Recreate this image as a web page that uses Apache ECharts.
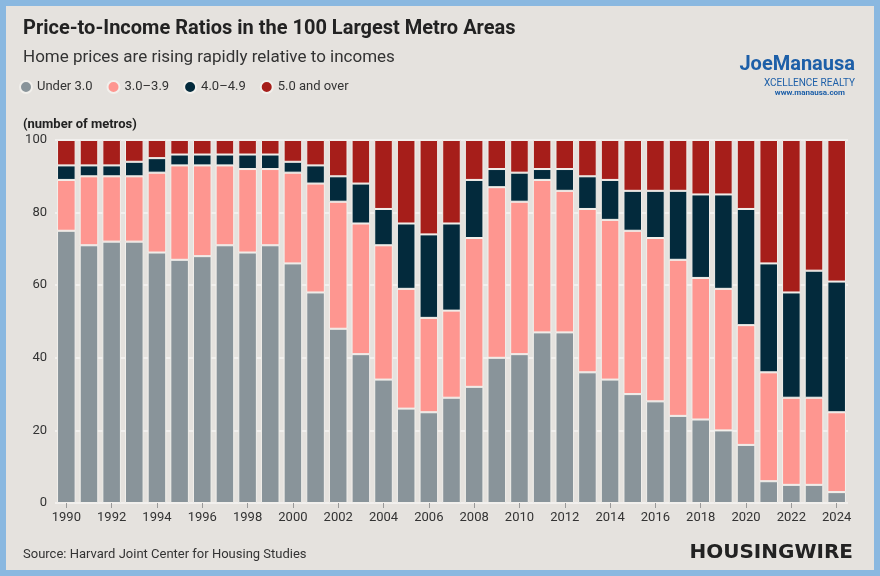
<!DOCTYPE html>
<html><head><meta charset="utf-8">
<script src="https://cdn.jsdelivr.net/npm/echarts@6/dist/echarts.min.js"></script>
<style>
html,body{margin:0;padding:0;width:880px;height:576px;overflow:hidden;background:#8ab8e0;}
#c{position:absolute;left:6px;top:6px;width:868px;height:564px;background:#e5e2de;}
</style></head><body>
<div id="c"></div>
<script>
const years=[];for(let y=1990;y<=2024;y++)years.push(String(y));
const under3=[75,71,72,72,69,67,68,71,69,71,66,58,48,41,34,26,25,29,32,40,41,47,47,36,34,30,28,24,23,20,16,6,5,5,3];
const r30_39=[14,19,18,18,22,26,25,22,23,21,25,30,35,36,37,33,26,24,41,47,42,42,39,45,44,45,45,43,39,39,33,30,24,24,22];
const r40_49=[4,3,3,4,4,3,3,3,4,4,3,5,7,11,10,18,23,24,16,5,8,3,6,9,11,11,13,19,23,26,32,30,29,35,36];
const r50=[7,7,7,6,5,4,4,4,4,4,6,7,10,12,19,23,26,23,11,8,9,8,8,10,11,14,14,14,15,15,19,34,42,36,39];
const names=['Under 3.0','3.0–3.9','4.0–4.9','5.0 and over'];
const colors=['#89949a','#fe9690','#032a3c','#a61e1a'];
const data=[under3,r30_39,r40_49,r50];
const ch=echarts.init(document.getElementById('c'));
const F='Roboto, "Noto Sans", sans-serif';
ch.setOption({
 animation:false,
 textStyle:{fontFamily:F},
 title:[
  {text:'Price-to-Income Ratios in the 100 Largest Metro Areas',left:12,top:8,textStyle:{fontSize:20,fontWeight:'bold',color:'#222'}},
  {text:'Home prices are rising rapidly relative to incomes',left:12,top:38,textStyle:{fontSize:17,fontWeight:'normal',color:'#333'}},
  {text:'(number of metros)',left:12,top:107,textStyle:{fontSize:13,fontWeight:'bold',color:'#222'}},
  {text:'Source: Harvard Joint Center for Housing Studies',left:12,top:537,textStyle:{fontSize:13,fontWeight:'normal',color:'#333'}},
  {text:'HOUSINGWIRE',right:16,top:532,textStyle:{fontSize:20,fontWeight:'900',color:'#222',fontFamily:'"DejaVu Sans", sans-serif'}},
  {text:'JoeManausa',right:14,top:44,textStyle:{fontSize:20,fontWeight:'bold',color:'#1d5fa8'}},
  {text:'XCELLENCE REALTY',right:14,top:67,textStyle:{fontSize:10,fontWeight:'normal',color:'#1d5fa8'}},
  {text:'www.manausa.com',right:24,top:78,textStyle:{fontSize:8,fontWeight:'bold',color:'#1d5fa8'}}
 ],
 legend:{left:8,top:69,itemWidth:12,itemHeight:12,icon:'circle',itemGap:14,textStyle:{fontSize:13,color:'#333'},data:names},
 grid:{left:49,right:26,top:134,bottom:67},
 xAxis:{type:'category',data:years,axisTick:{show:true,alignWithLabel:true,lineStyle:{color:'#999'}},axisLine:{show:false},
  axisLabel:{interval:1,fontSize:13,color:'#333'}},
 yAxis:{type:'value',min:0,max:100,interval:20,splitLine:{lineStyle:{color:'#f6f5f3',width:1.5}},axisLabel:{fontSize:13,color:'#333'}},
 series:data.map((d,i)=>({name:names[i],type:'bar',stack:'a',data:d,barCategoryGap:'18%',
   itemStyle:{color:colors[i],borderColor:'#f2f0ec',borderWidth:1}}))
});
</script></body></html>
